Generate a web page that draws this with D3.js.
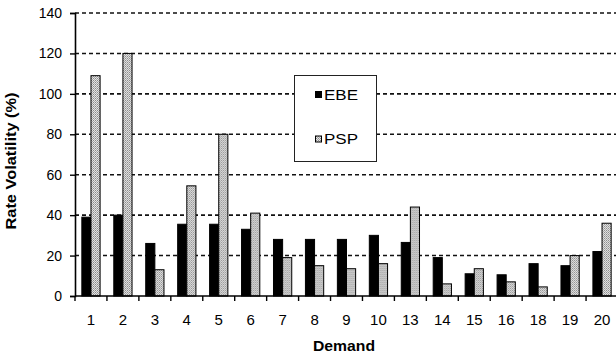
<!DOCTYPE html>
<html>
<head>
<meta charset="utf-8">
<script src="https://cdn.jsdelivr.net/npm/d3@7"></script>
<style>
  html, body { margin: 0; padding: 0; background: #fff; }
  svg { display: block; font-family: Arial, "Liberation Sans", sans-serif; }
</style>
</head>
<body>
<svg id="chart" width="616" height="358"></svg>
<script>
// Demand categories and rate volatility (%) for each method
const categories = ["1","2","3","4","5","6","7","8","9","10","13","14","15","16","18","19","20"];
const seriesNames = ["EBE", "PSP"];
const ebeValues = [39, 40, 26, 35.5, 35.5, 33, 28, 28, 28, 30, 26.5, 19, 11, 10.5, 16, 15, 22];
const pspValues = [109, 120, 13, 54.5, 80, 41, 19, 15, 13.5, 16, 44, 6, 13.5, 7, 4.5, 20, 36];
const yTicks = [0, 20, 40, 60, 80, 100, 120, 140];

const svg = d3.select("#chart");
const W = 616;

// stippled fill for PSP bars
const defs = svg.append("defs");
const pat = defs.append("pattern")
  .attr("id", "stipple").attr("patternUnits", "userSpaceOnUse")
  .attr("width", 2).attr("height", 2);
pat.append("rect").attr("width", 2).attr("height", 2).attr("fill", "#e4e4e4");
pat.append("rect").attr("width", 1).attr("height", 1).attr("fill", "#8a8a8a");
pat.append("rect").attr("x", 1).attr("y", 1).attr("width", 1).attr("height", 1).attr("fill", "#a8a8a8");

const x0 = d3.scaleBand().domain(categories).range([75, 618]).paddingInner(0).paddingOuter(0);
const x1 = d3.scaleBand().domain(seriesNames).range([0, x0.bandwidth()]).paddingInner(0).paddingOuter(0.75);
const y = d3.scaleLinear().domain([0, 140]).range([296, 13]);

const fills = { EBE: "#000", PSP: "url(#stipple)" };

// dashed gridlines
svg.append("g").selectAll("line")
  .data(yTicks.filter(t => t > 0))
  .join("line")
  .attr("x1", 75).attr("x2", W)
  .attr("y1", d => y(d)).attr("y2", d => y(d))
  .attr("stroke", "#111").attr("stroke-width", 1.6)
  .attr("stroke-dasharray", "4,3");

// bars
const rows = categories.map((c, i) => ({ cat: c, EBE: ebeValues[i], PSP: pspValues[i] }));
const groups = svg.append("g").selectAll("g")
  .data(rows).join("g")
  .attr("transform", d => `translate(${x0(d.cat)},0)`);
groups.selectAll("rect")
  .data(d => seriesNames.map(k => ({ key: k, value: d[k] })))
  .join("rect")
  .attr("x", d => x1(d.key))
  .attr("y", d => y(d.value))
  .attr("width", x1.bandwidth())
  .attr("height", d => y(0) - y(d.value))
  .attr("fill", d => fills[d.key])
  .attr("stroke", "#000").attr("stroke-width", 1);

// y axis
const yAxis = d3.axisLeft(y).tickValues(yTicks).tickSize(5).tickPadding(8);
const gy = svg.append("g").attr("transform", "translate(75,0)").call(yAxis);
gy.select(".domain").attr("stroke", "#000").attr("stroke-width", 1.6);
gy.selectAll(".tick line").attr("stroke", "#000").attr("stroke-width", 1.4);
gy.selectAll(".tick text").attr("font-size", 14).attr("fill", "#000")
  .attr("font-family", "Arial, 'Liberation Sans', sans-serif");

// x axis: baseline, boundary ticks, centered labels
const gx = svg.append("g").attr("transform", `translate(0,${y(0)})`);
gx.append("line").attr("x1", 75).attr("x2", W).attr("y1", 0).attr("y2", 0)
  .attr("stroke", "#000").attr("stroke-width", 1.6);
gx.selectAll("line.bt").data(categories).join("line").attr("class", "bt")
  .attr("x1", d => x0(d)).attr("x2", d => x0(d))
  .attr("y1", 0).attr("y2", 5)
  .attr("stroke", "#000").attr("stroke-width", 1.4);
gx.selectAll("text").data(categories).join("text")
  .attr("x", d => x0(d) + x0.bandwidth() / 2)
  .attr("y", 29)
  .attr("text-anchor", "middle")
  .attr("font-size", 15)
  .text(d => d);

// axis titles
svg.append("text")
  .attr("x", 344).attr("y", 351)
  .attr("text-anchor", "middle")
  .attr("font-size", 15).attr("font-weight", "bold")
  .attr("textLength", 62).attr("lengthAdjust", "spacingAndGlyphs")
  .text("Demand");
svg.append("text")
  .attr("transform", "translate(16,161) rotate(-90)")
  .attr("text-anchor", "middle")
  .attr("font-size", 14).attr("font-weight", "bold")
  .attr("textLength", 137).attr("lengthAdjust", "spacingAndGlyphs")
  .text("Rate Volatility (%)");

// legend
const lg = svg.append("g");
lg.append("rect").attr("x", 294.5).attr("y", 75.5).attr("width", 82).attr("height", 86)
  .attr("fill", "#fff").attr("stroke", "#222").attr("stroke-width", 1);
const legendRows = [{ key: "EBE", cy: 94.5 }, { key: "PSP", cy: 139 }];
legendRows.forEach(r => {
  lg.append("rect").attr("x", 315.5).attr("y", r.cy - 3).attr("width", 6).attr("height", 6)
    .attr("fill", fills[r.key]).attr("stroke", "#000").attr("stroke-width", 1);
  lg.append("text").attr("x", 324).attr("y", r.cy + 5)
    .attr("font-size", 14)
    .attr("textLength", 34).attr("lengthAdjust", "spacingAndGlyphs")
    .text(r.key);
});
</script>
</body>
</html>
